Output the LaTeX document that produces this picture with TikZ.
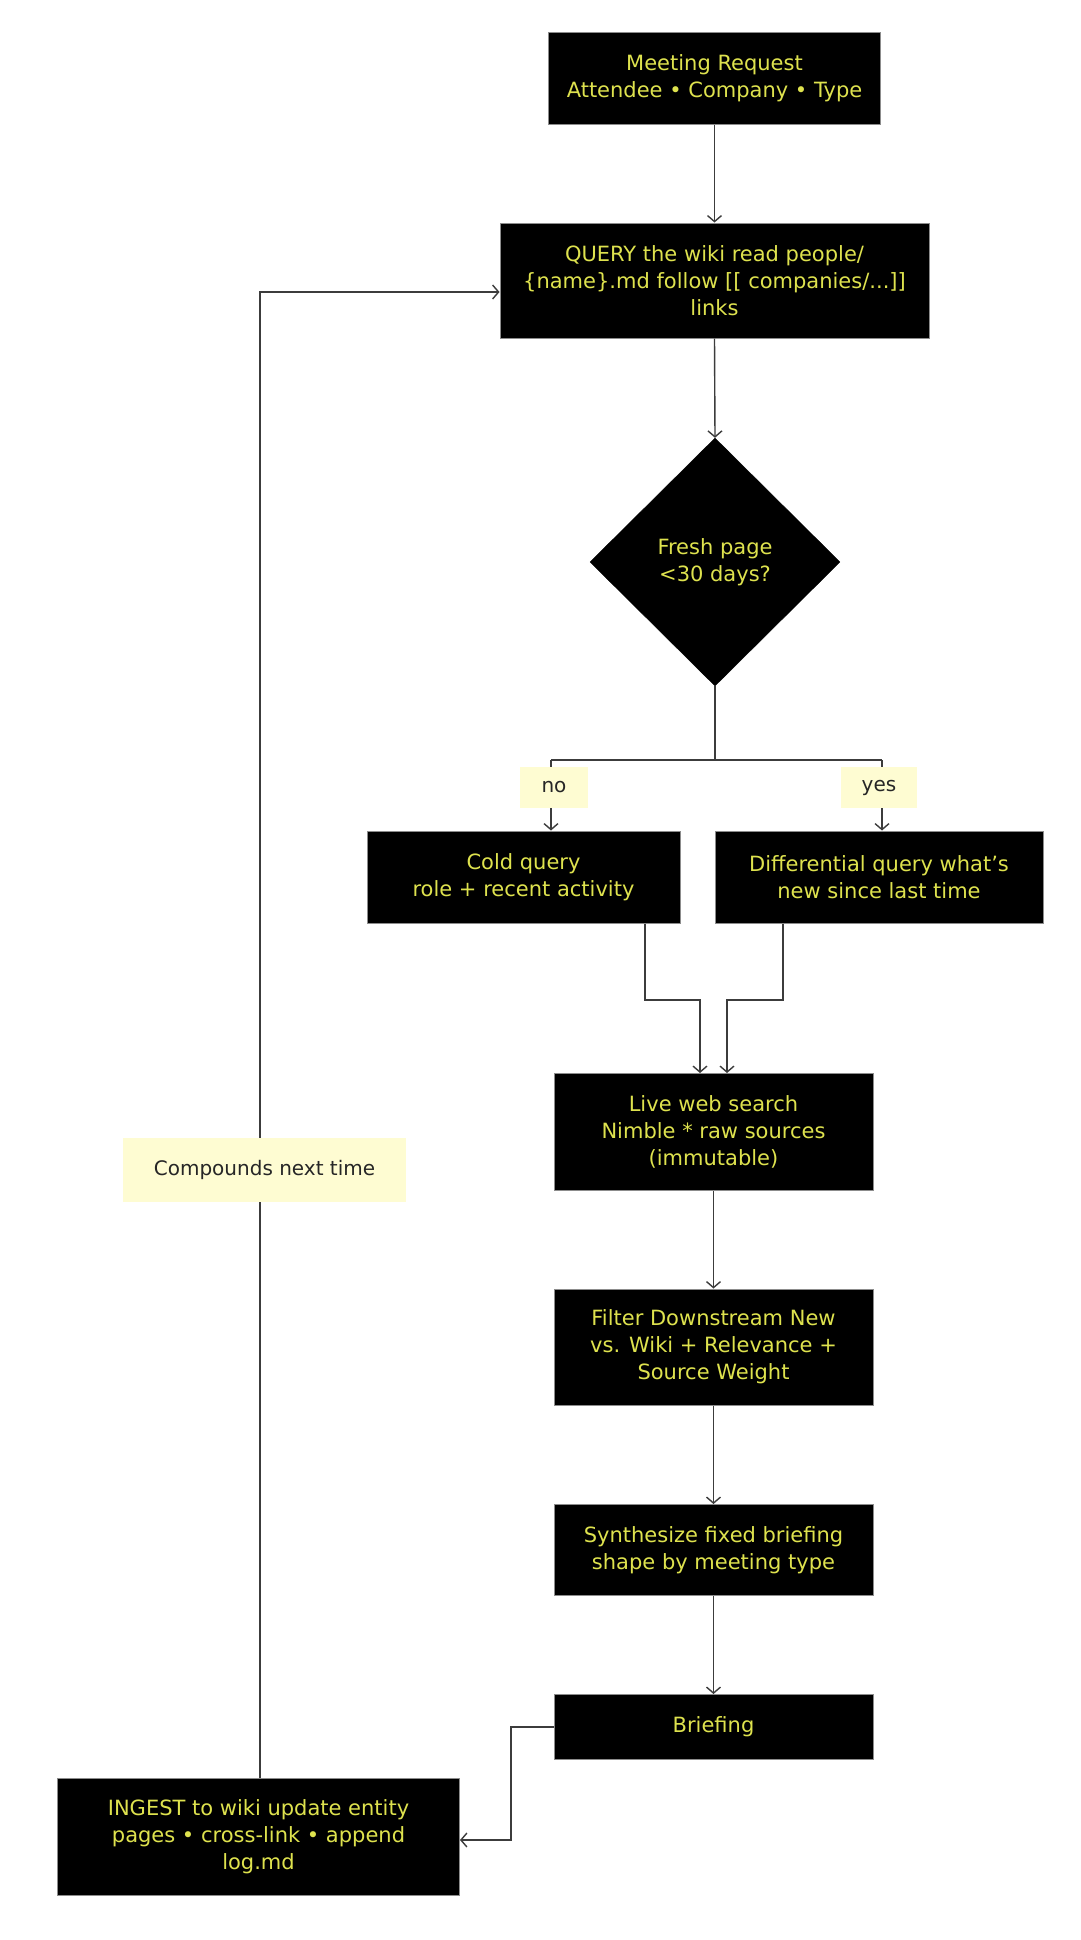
\documentclass[tikz,border=0pt]{standalone}
\usepackage{fontspec}
\setmainfont{DejaVu Sans}
\usetikzlibrary{shapes.geometric,arrows.meta}
\definecolor{boxtext}{RGB}{222,226,78}
\definecolor{labelfill}{RGB}{254,252,210}
\definecolor{linecol}{RGB}{60,60,60}
\tikzset{
  stepbox/.style={draw=black!45,line width=1pt,fill=black,text=boxtext,align=center,
    inner sep=0pt,font=\fontsize{21}{27}\selectfont},
  decisionbox/.style={shape=diamond,fill=black,draw=black,text=boxtext,align=center,
    inner sep=0pt,minimum width=250pt,minimum height=248pt,font=\fontsize{21}{27}\selectfont},
  tag/.style={fill=labelfill,text=black!85,inner sep=0pt,font=\fontsize{20}{24}\selectfont},
  conn/.style={draw=linecol,line width=1.4pt},
  arr/.style={conn,-{Straight Barb[length=6pt,width=14pt]}}
}
\begin{document}
\begin{tikzpicture}[x=1pt,y=-1pt]
\useasboundingbox[fill=white] (0,0) rectangle (1080,1940);
% nodes
\node[stepbox,minimum width=332pt,minimum height=92pt] (req) at (714.5,78.5)
  {Meeting Request\\Attendee • Company • Type};
\node[stepbox,minimum width=429pt,minimum height=115pt] (query) at (714.5,280.5)
  {QUERY the wiki read people/\\\{name\}.md follow [[ companies/...]]\\links};
\node[decisionbox] (fresh) at (715,562) {Fresh page\\<30 days?};
\node[stepbox,minimum width=313pt,minimum height=92pt] (cold) at (523.5,877)
  {Cold query\\role + recent activity};
\node[stepbox,minimum width=328pt,minimum height=92pt] (diff) at (879,877)
  {Differential query what’s\\new since last time};
\node[stepbox,minimum width=319pt,minimum height=117pt] (live) at (713.5,1132)
  {Live web search\\Nimble * raw sources\\(immutable)};
\node[stepbox,minimum width=319pt,minimum height=116pt] (filter) at (713.5,1347)
  {Filter Downstream New\\vs. Wiki + Relevance +\\Source Weight};
\node[stepbox,minimum width=319pt,minimum height=91pt] (synth) at (713.5,1550)
  {Synthesize fixed briefing\\shape by meeting type};
\node[stepbox,minimum width=319pt,minimum height=65pt] (brief) at (713.5,1727)
  {Briefing};
\node[stepbox,minimum width=402pt,minimum height=117pt] (ingest) at (258.5,1837)
  {INGEST to wiki update entity\\pages • cross-link • append\\log.md};
% coordinates
\coordinate (split) at (715,760);
\coordinate (noL) at (551,760);
\coordinate (yesR) at (882,760);
\coordinate (c1) at (645,1000);
\coordinate (c2) at (700,1000);
\coordinate (d1) at (783,1000);
\coordinate (d2) at (727,1000);
\coordinate (b1) at (511,1727);
\coordinate (b2) at (511,1840);
\coordinate (f1) at (260,292);
% connectors
\draw[arr] (req.south) -- (query.north);
\draw[arr] (query.south) -- (fresh.north);
\draw[conn] (fresh.south) -- (split);
\draw[conn] (noL) -- (yesR);
\draw[arr] (noL) -- (noL |- cold.north);
\draw[arr] (yesR) -- (yesR |- diff.north);
\draw[arr] (c1 |- cold.south) -- (c1) -- (c2) -- (c2 |- live.north);
\draw[arr] (d1 |- diff.south) -- (d1) -- (d2) -- (d2 |- live.north);
\draw[arr] (live.south) -- (filter.north);
\draw[arr] (filter.south) -- (synth.north);
\draw[arr] (synth.south) -- (brief.north);
\draw[arr] (brief.west) -- (b1) -- (b2) -- (b2 -| ingest.east);
\draw[arr] (f1 |- ingest.north) -- (f1) -- (f1 -| query.west);
% labels
\node[tag,minimum width=68pt,minimum height=41pt] (nolab) at (554,787.5) {no};
\node[tag,minimum width=76pt,minimum height=41pt] (yeslab) at (879,787.5) {yes};
\node[tag,minimum width=283pt,minimum height=64pt] (comp) at (264.5,1170) {Compounds next time};
\end{tikzpicture}
\end{document}
